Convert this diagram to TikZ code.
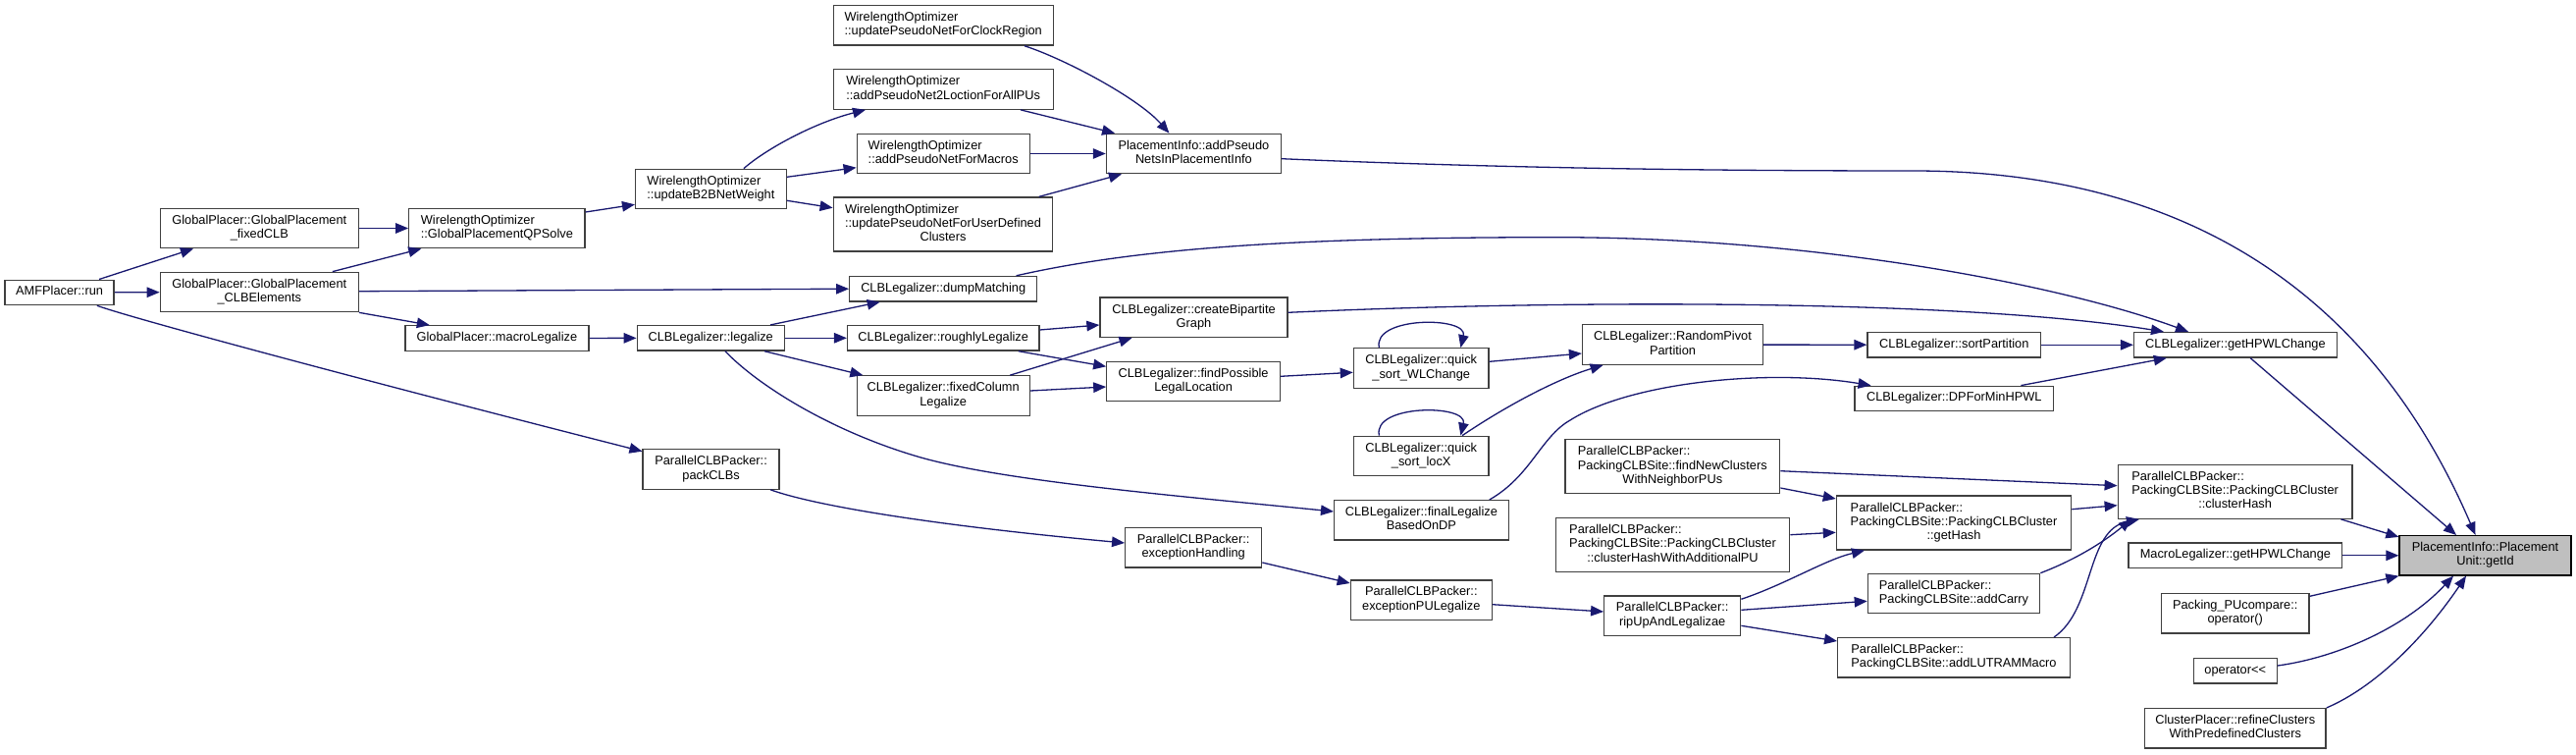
\documentclass[tikz,border=0pt]{standalone}
\usepackage{fontspec}
\setmainfont{Liberation Sans}
\usetikzlibrary{arrows.meta,calc}
\definecolor{midblue}{RGB}{25,25,112}
\definecolor{gtf}{RGB}{64,64,64}
\definecolor{gsf}{RGB}{191,191,191}
\newcommand{\ctab}[1]{\begin{tabular}{@{}c@{}}#1\end{tabular}}
\newcommand{\ltab}[1]{\begin{tabular}{@{}l@{}}#1\end{tabular}}
\newcommand{\lastc}[1]{\multicolumn{1}{@{}c@{}}{#1}}
\begin{document}
\begin{tikzpicture}[x=1pt,y=-1pt,
  box/.style={draw=gtf, line width=1.3pt, fill=white, inner sep=0pt, text=black,
    font=\fontsize{12.8pt}{14.3pt}\selectfont},
  s1/.style={minimum height=25.5pt},
  s2/.style={minimum height=40.4pt},
  s3/.style={minimum height=55pt},
  conn/.style={draw=midblue, line width=1.3pt, -{Triangle[length=13pt,width=10.5pt]}}]
\fill[white] (0,0) rectangle (2625,768);
\useasboundingbox (0,0) rectangle (2625,768);

% nodes
\node[box,s1,minimum width=111pt] (amf) at (60.6,297.9) {\ctab{AMFPlacer::run}};
\node[box,s2,minimum width=202pt] (fixedclb) at (264.3,232.5) {\ctab{GlobalPlacer::GlobalPlacement\\\_fixedCLB}};
\node[box,s2,minimum width=202pt] (clbelem) at (264.3,297.5) {\ctab{GlobalPlacer::GlobalPlacement\\\_CLBElements}};
\node[box,s2,minimum width=179.3pt] (qpsolve) at (506.4,232.5) {\ltab{WirelengthOptimizer\\::GlobalPlacementQPSolve}};
\node[box,s1,minimum width=187pt] (macroleg) at (506.4,344.5) {\ctab{GlobalPlacer::macroLegalize}};
\node[box,s2,minimum width=153.6pt] (b2b) at (724.4,192.5) {\ltab{WirelengthOptimizer\\::updateB2BNetWeight}};
\node[box,s1,minimum width=150pt] (legalize) at (724.2,344.3) {\ctab{CLBLegalizer::legalize}};
\node[box,s2,minimum width=139pt] (packclbs) at (724.6,478) {\ctab{ParallelCLBPacker::\\packCLBs}};
\node[box,s2,minimum width=224pt] (clock) at (961.2,25.9) {\ltab{WirelengthOptimizer\\::updatePseudoNetForClockRegion}};
\node[box,s2,minimum width=224pt] (allpus) at (961.2,91) {\ltab{WirelengthOptimizer\\::addPseudoNet2LoctionForAllPUs}};
\node[box,s2,minimum width=176pt] (macros) at (961.2,156.5) {\ltab{WirelengthOptimizer\\::addPseudoNetForMacros}};
\node[box,s3,minimum width=223.5pt] (userdef) at (961,228.5) {\ltab{WirelengthOptimizer\\::updatePseudoNetForUserDefined\\\lastc{Clusters}}};
\node[box,s1,minimum width=191pt] (dump) at (961.2,294.2) {\ctab{CLBLegalizer::dumpMatching}};
\node[box,s1,minimum width=195.3pt] (rough) at (961.2,344.3) {\ctab{CLBLegalizer::roughlyLegalize}};
\node[box,s2,minimum width=176pt] (fixedcol) at (961.2,403) {\ctab{CLBLegalizer::fixedColumn\\Legalize}};
\node[box,s2,minimum width=178pt] (addpseudo) at (1216.4,156.5) {\ctab{PlacementInfo::addPseudo\\NetsInPlacementInfo}};
\node[box,s2,minimum width=191pt] (bipartite) at (1216.5,323.3) {\ctab{CLBLegalizer::createBipartite\\Graph}};
\node[box,s2,minimum width=176.6pt] (findposs) at (1216.1,388.5) {\ctab{CLBLegalizer::findPossible\\LegalLocation}};
\node[box,s2,minimum width=139pt] (exchandling) at (1216.2,557.8) {\ctab{ParallelCLBPacker::\\exceptionHandling}};
\node[box,s2,minimum width=137.7pt] (qswl) at (1448.2,375) {\ctab{CLBLegalizer::quick\\\_sort\_WLChange}};
\node[box,s2,minimum width=137.7pt] (qslocx) at (1448.2,464.5) {\ctab{CLBLegalizer::quick\\\_sort\_locX}};
\node[box,s2,minimum width=177.6pt] (finallegal) at (1448.4,529.8) {\ctab{CLBLegalizer::finalLegalize\\BasedOnDP}};
\node[box,s2,minimum width=144pt] (excpu) at (1448.3,611.2) {\ctab{ParallelCLBPacker::\\exceptionPULegalize}};
\node[box,s2,minimum width=184pt] (randpivot) at (1704.5,351) {\ctab{CLBLegalizer::RandomPivot\\Partition}};
\node[box,s3,minimum width=218.8pt] (findnew) at (1704.3,475.2) {\ltab{ParallelCLBPacker::\\PackingCLBSite::findNewClusters\\\lastc{WithNeighborPUs}}};
\node[box,s3,minimum width=238.6pt] (chwadd) at (1704.5,555) {\ltab{ParallelCLBPacker::\\PackingCLBSite::PackingCLBCluster\\\lastc{::clusterHashWithAdditionalPU}}};
\node[box,s2,minimum width=139pt] (ripup) at (1704.2,627.2) {\ctab{ParallelCLBPacker::\\ripUpAndLegalizae}};
\node[box,s1,minimum width=176.6pt] (sortpart) at (1991.3,351.3) {\ctab{CLBLegalizer::sortPartition}};
\node[box,s1,minimum width=202.8pt] (dpmin) at (1991.3,406) {\ctab{CLBLegalizer::DPForMinHPWL}};
\node[box,s3,minimum width=239.2pt] (gethash) at (1991,532.5) {\ltab{ParallelCLBPacker::\\PackingCLBSite::PackingCLBCluster\\\lastc{::getHash}}};
\node[box,s2,minimum width=175.3pt] (addcarry) at (1991,604.5) {\ltab{ParallelCLBPacker::\\PackingCLBSite::addCarry}};
\node[box,s2,minimum width=236.6pt] (addlutram) at (1991,669.8) {\ltab{ParallelCLBPacker::\\PackingCLBSite::addLUTRAMMacro}};
\node[box,s1,minimum width=206.8pt] (gethpwl) at (2277.9,351.3) {\ctab{CLBLegalizer::getHPWLChange}};
\node[box,s3,minimum width=238.7pt] (clusterhash) at (2277.6,500.7) {\ltab{ParallelCLBPacker::\\PackingCLBSite::PackingCLBCluster\\\lastc{::clusterHash}}};
\node[box,s1,minimum width=217.6pt] (macrolegh) at (2277.9,565.8) {\ctab{MacroLegalizer::getHPWLChange}};
\node[box,s2,minimum width=150.6pt] (pucompare) at (2277.7,624.7) {\ctab{Packing\_PUcompare::\\operator()}};
\node[box,s1,minimum width=85pt] (oplt) at (2277.7,683.2) {\ctab{operator<\kern0pt<}};
\node[box,s2,minimum width=184.8pt] (refine) at (2277.7,741.8) {\ctab{ClusterPlacer::refineClusters\\WithPredefinedClusters}};
\node[box,s2,minimum width=175pt,draw=black,fill=gsf] (getid) at (2532.5,565.8) {\ctab{PlacementInfo::Placement\\Unit::getId}};

% edges
\draw[conn] ($(amf.north)+(40.4,0)$) -- ($(fixedclb.south)+(-67.3,0)$);
\draw[conn] (amf) -- (clbelem);
\draw[conn] ($(amf.south)+(38.3,0)$) .. controls (140,326) and (400,395) .. ($(packclbs.west)+(0,-18.3)$);
\draw[conn] (fixedclb) -- (qpsolve);
\draw[conn] ($(clbelem.north)+(74.5,0)$) -- ($(qpsolve.south)+(-77.1,0)$);
\draw[conn] ($(clbelem.east)+(0,-0.8)$) -- (dump.west);
\draw[conn] (clbelem.south east) -- ($(macroleg.north)+(-68.6,0)$);
\draw[conn] ($(qpsolve.east)+(0,-16.5)$) -- ($(b2b.west)+(0,15.8)$);
\draw[conn] (macroleg) -- (legalize);
\draw[conn] ($(b2b.north)+(33.5,0)$) .. controls (780,152) and (830,125) .. ($(allpus.south)+(-79.2,0)$);
\draw[conn] ($(b2b.east)+(0,-12.2)$) -- ($(macros.west)+(0,14.2)$);
\draw[conn] ($(b2b.east)+(0,11.8)$) -- ($(userdef.west)+(0,-16.8)$);
\draw[conn] ($(clock.south)+(82.8,0)$) .. controls (1085,60) and (1160,100) .. ($(addpseudo.north)+(-25,0)$);
\draw[conn] ($(allpus.south)+(78.7,0)$) -- ($(addpseudo.north west)+(9.3,0)$);
\draw[conn] (macros) -- (addpseudo);
\draw[conn] ($(userdef.north)+(97.8,0)$) -- ($(addpseudo.south)+(-73.4,0)$);
\draw[conn] ($(addpseudo.east)+(0,5.2)$) .. controls (1500,170) and (1700,174) .. (1950,174)
   .. controls (2180,174) and (2400,260) .. ($(getid.north)+(-10,0)$);
\draw[conn] ($(legalize.north)+(61,0)$) -- ($(dump.south)+(-64.5,0)$);
\draw[conn] (legalize) -- (rough);
\draw[conn] ($(legalize.south)+(54.7,0)$) -- ($(fixedcol.north west)+(6.8,0)$);
\draw[conn] ($(legalize.south)+(14.7,0)$) .. controls (775,395) and (850,440) .. (935,465)
   .. controls (1020,490) and (1200,505) .. ($(finallegal.west)+(0,-8.8)$);
\draw[conn] ($(dump.north)+(74.4,0)$) .. controls (1150,255) and (1300,241.7) .. (1585,241.7)
   .. controls (1850,241.7) and (2100,290) .. ($(gethpwl.north)+(-47.9,0)$);
\draw[conn] ($(rough.east)+(0,-8.3)$) -- ($(bipartite.west)+(0,7.7)$);
\draw[conn] ($(rough.south)+(76.6,0)$) -- ($(findposs.west)+(0,-15.2)$);
\draw[conn] ($(fixedcol.north)+(68.1,0)$) -- ($(bipartite.south)+(-63,0)$);
\draw[conn] ($(fixedcol.east)+(0,-5)$) -- ($(findposs.west)+(0,5.5)$);
\draw[conn] ($(bipartite.east)+(0,-5)$) .. controls (1600,305) and (2000,305) .. ($(gethpwl.north)+(-72.9,0)$);
\draw[conn] ($(findposs.east)+(0,-5.2)$) -- ($(qswl.west)+(0,4.3)$);
\draw[conn] ($(qswl.north)+(-42.8,0)$) .. controls (1398,322) and (1496,322) .. ($(qswl.north)+(40.2,0)$);
\draw[conn] ($(qswl.east)+(0,-6.7)$) -- ($(randpivot.west)+(0,9)$);
\draw[conn] ($(qslocx.north)+(-42.8,0)$) .. controls (1398,411.5) and (1496,411.5) .. ($(qslocx.north)+(40.2,0)$);
\draw[conn] ($(qslocx.north)+(41.8,0)$) .. controls (1540,410) and (1590,385) .. ($(randpivot.south)+(-70.9,0)$);
\draw[conn] (randpivot) -- (sortpart);
\draw[conn] (sortpart) -- (gethpwl);
\draw[conn] ($(dpmin.north)+(68.1,0)$) -- ($(gethpwl.south)+(-70.1,0)$);
\draw[conn] ($(finallegal.north)+(69.4,0)$) .. controls (1560,485) and (1570,445) .. (1600,428)
   .. controls (1660,390) and (1800,375) .. ($(dpmin.north west)+(17.3,0)$);
\draw[conn] ($(gethpwl.south)+(15.3,0)$) -- ($(getid.north)+(-29.5,0)$);
\draw[conn] ($(packclbs.south)+(60.6,0)$) .. controls (830,515) and (950,535) .. ($(exchandling.west)+(0,-4.8)$);
\draw[conn] ($(exchandling.east)+(0,15.2)$) -- ($(excpu.west)+(0,-17.2)$);
\draw[conn] ($(excpu.east)+(0,4.5)$) -- ($(ripup.west)+(0,-4.2)$);
\draw[conn] ($(ripup.east)+(0,-16.9)$) .. controls (1820,595) and (1860,570) .. ($(gethash.south)+(-91,0)$);
\draw[conn] ($(ripup.east)+(0,-5.9)$) -- ($(addcarry.west)+(0,7.8)$);
\draw[conn] ($(ripup.east)+(0,10.1)$) -- ($(addlutram.west)+(0,-16.8)$);
\draw[conn] ($(findnew.east)+(0,4.5)$) -- ($(clusterhash.west)+(0,-6)$);
\draw[conn] ($(findnew.east)+(0,21.8)$) -- ($(gethash.west)+(0,-24.5)$);
\draw[conn] ($(chwadd.east)+(0,-10.3)$) -- ($(gethash.west)+(0,9.8)$);
\draw[conn] ($(gethash.east)+(0,-13.8)$) -- ($(clusterhash.west)+(0,14)$);
\draw[conn] (addcarry.north east) .. controls (2110,572) and (2140,555) .. ($(clusterhash.south)+(-105.6,0)$);
\draw[conn] ($(addlutram.north)+(102.1,0)$) .. controls (2135,620) and (2125,540) .. ($(clusterhash.south)+(-97.6,0)$);
\draw[conn] ($(clusterhash.south)+(107.8,0)$) -- ($(getid.north west)+(0,2)$);
\draw[conn] (macrolegh) -- (getid);
\draw[conn] ($(pucompare.east)+(0,-17.4)$) -- (getid.south west);
\draw[conn] ($(oplt.east)+(0,-5.2)$) .. controls (2380,670) and (2450,640) .. ($(getid.south)+(-32.5,0)$);
\draw[conn] (refine.north east) .. controls (2420,700) and (2470,650) .. ($(getid.south)+(-19.5,0)$);
\end{tikzpicture}
\end{document}
